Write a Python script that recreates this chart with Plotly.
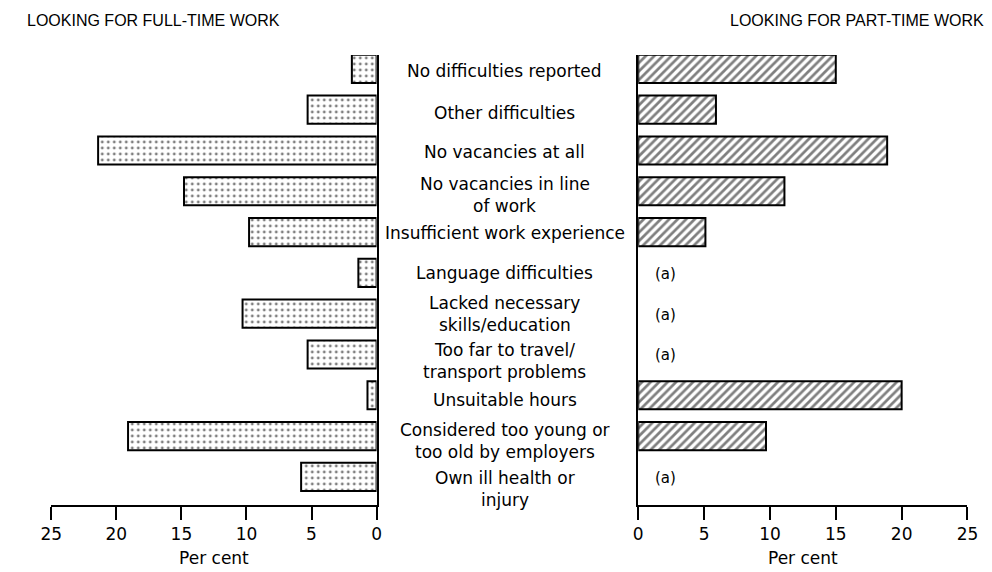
import plotly.graph_objects as go

W, H = 992, 572

categories = [
    "No difficulties reported",
    "Other difficulties",
    "No vacancies at all",
    "No vacancies in line<br>of work",
    "Insufficient work experience",
    "Language difficulties",
    "Lacked necessary<br>skills/education",
    "Too far to travel/<br>transport problems",
    "Unsuitable hours",
    "Considered too young or<br>too old by employers",
    "Own ill health or<br>injury",
]
full_time = [1.9, 5.3, 21.4, 14.8, 9.8, 1.4, 10.3, 5.3, 0.7, 19.1, 5.8]
part_time = [15.0, 5.9, 18.9, 11.1, 5.1, None, None, None, 20.0, 9.7, None]
tick_vals = [0, 5, 10, 15, 20, 25]
title_left = "LOOKING FOR FULL-TIME WORK"
title_right = "LOOKING FOR PART-TIME WORK"
axis_title = "Per cent"
missing_label = "(a)"

# layout nudges (pixels downward) for the centre labels, as placed in the original
label_nudge = [2, 3, 2, 4, 1, 0, 0, 7, 5, 5, 12]

FONT = "DejaVu Sans"
ypos = list(range(len(categories)))

fig = go.Figure()
fig.add_trace(go.Bar(
    x=full_time, y=ypos, orientation="h", xaxis="x", yaxis="y",
    marker=dict(color="white", line=dict(color="black", width=2),
                pattern=dict(shape=".", fgcolor="black", bgcolor="white",
                             size=6, solidity=0.18)),
    showlegend=False,
))
fig.add_trace(go.Bar(
    x=part_time, y=ypos, orientation="h", xaxis="x2", yaxis="y2",
    marker=dict(color="white", line=dict(color="black", width=2),
                pattern=dict(shape="/", fgcolor="black", bgcolor="white",
                             size=6, solidity=0.45)),
    showlegend=False,
))

x1d = [33 / W, 365.7 / W]
x2d = [633.3 / W, 970 / W]
yd = [75 / H, 525 / H]
yr = [10.69, -0.34]

axis_common = dict(
    showgrid=False, zeroline=False, showline=True, linecolor="black", linewidth=2,
    ticks="outside", ticklen=13, tickwidth=2, tickcolor="black",
    tickvals=tick_vals, tickfont=dict(family=FONT, size=17, color="black"),
    title=dict(text=axis_title, font=dict(family=FONT, size=17, color="black"), standoff=9),
    fixedrange=True,
)
fig.update_layout(
    width=W, height=H,
    margin=dict(l=0, r=0, t=0, b=0),
    paper_bgcolor="white", plot_bgcolor="white",
    bargap=0.31,
    xaxis=dict(domain=x1d, range=[25, 0], anchor="y", **axis_common),
    xaxis2=dict(domain=x2d, range=[0, 25], anchor="y2", **axis_common),
    yaxis=dict(domain=yd, range=yr, anchor="x", side="right", showline=True,
               linecolor="black", linewidth=2, showticklabels=False, ticks="",
               showgrid=False, zeroline=False),
    yaxis2=dict(domain=yd, range=yr, anchor="x2", side="left", showline=True,
                linecolor="black", linewidth=2, showticklabels=False, ticks="",
                showgrid=False, zeroline=False),
)

ann = []
for i, c in enumerate(categories):
    lines = c.split("<br>")
    if len(lines) == 1:
        shifts = [0]
    else:
        shifts = [11, -11]
    for ln, s in zip(lines, shifts):
        ann.append(dict(text=ln, x=497 / W, xref="paper", y=i, yref="y",
                        yshift=s - label_nudge[i], xanchor="center", yanchor="middle",
                        showarrow=False,
                        font=dict(family=FONT, size=17, color="black")))
    if part_time[i] is None:
        ann.append(dict(text=missing_label, x=1.1, xref="x2", y=i, yref="y2",
                        yshift=-1, xanchor="left", yanchor="middle", showarrow=False,
                        font=dict(family=FONT, size=15, color="black")))

ann.append(dict(text=title_left, x=6 / W, xref="paper", y=1 - 13 / H, yref="paper",
                xanchor="left", yanchor="middle", showarrow=False,
                font=dict(family="Liberation Sans", size=16, color="black")))
ann.append(dict(text=title_right, x=989 / W, xref="paper", y=1 - 13 / H, yref="paper",
                xanchor="right", yanchor="middle", showarrow=False,
                font=dict(family="Liberation Sans", size=16, color="black")))
fig.update_layout(annotations=ann)

fig.write_html("out.html")
